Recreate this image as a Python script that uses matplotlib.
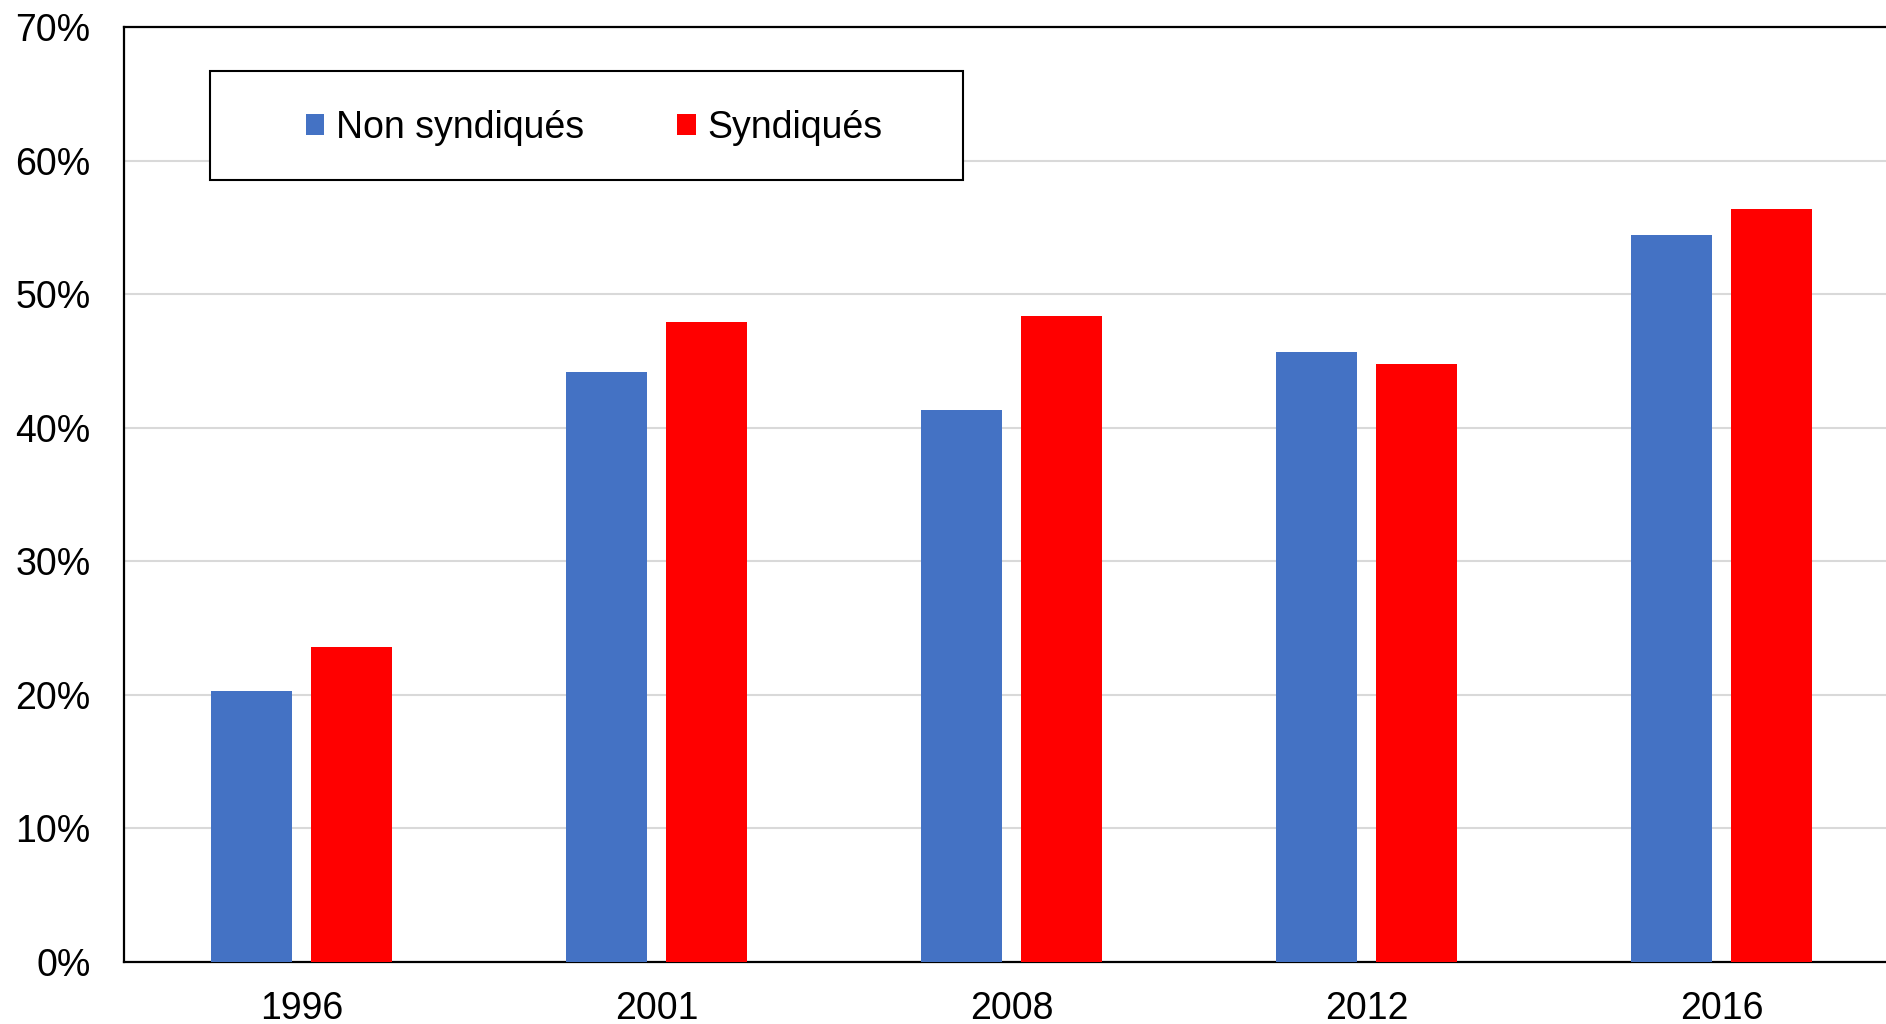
import matplotlib
matplotlib.use('Agg')
import matplotlib.pyplot as plt
from matplotlib.patches import Rectangle
import numpy as np

plt.rcParams['font.family'] = ['Liberation Sans', 'DejaVu Sans']

years = ['1996', '2001', '2008', '2012', '2016']
non_syndiques = [20.3, 44.2, 41.3, 45.7, 54.4]
syndiques = [23.6, 47.9, 48.4, 44.8, 56.4]
yticks = [0, 10, 20, 30, 40, 50, 60, 70]

blue = '#4472c4'
red = '#ff0000'

fig = plt.figure(figsize=(18.86, 10.24), dpi=100)
ax = fig.add_axes([124 / 1886, 1 - 962 / 1024, 5 * 355 / 1886, (962 - 27) / 1024])

x = np.arange(len(years))
w = 0.228
off = 0.142
ax.bar(x - off, non_syndiques, w, color=blue, label='Non syndiqués', zorder=3)
ax.bar(x + off, syndiques, w, color=red, label='Syndiqués', zorder=3)

ax.set_xlim(-0.5, len(years) - 0.5)
ax.set_ylim(0, 70)
ax.set_yticks(yticks)
ax.set_yticklabels([f'{v}%' for v in yticks])
ax.set_xticks(x)
ax.set_xticklabels(years)
ax.tick_params(axis='both', length=0, labelsize=27, colors='black')
ax.tick_params(axis='y', pad=24)
ax.tick_params(axis='x', pad=21)
ax.yaxis.grid(True, color='#d9d9d9', linewidth=1.5, zorder=0)
ax.set_axisbelow(True)
for side in ['left', 'bottom', 'top', 'right']:
    ax.spines[side].set_color('black')
    ax.spines[side].set_linewidth(1.6)

# legend box
box = Rectangle((210 / 1886, 1 - 180 / 1024), (963 - 210) / 1886, 109 / 1024,
                transform=fig.transFigure, facecolor='white', edgecolor='black',
                linewidth=1.5, zorder=5)
fig.patches.append(box)
leg = fig.legend(loc='center', bbox_to_anchor=(594 / 1886, 1 - 128 / 1024),
                 ncol=2, frameon=False, fontsize=27, handlelength=0.5,
                 handleheight=0.5, handletextpad=0.3, columnspacing=2.5)
leg.set_zorder(6)

fig.savefig('out.png', dpi=100)
